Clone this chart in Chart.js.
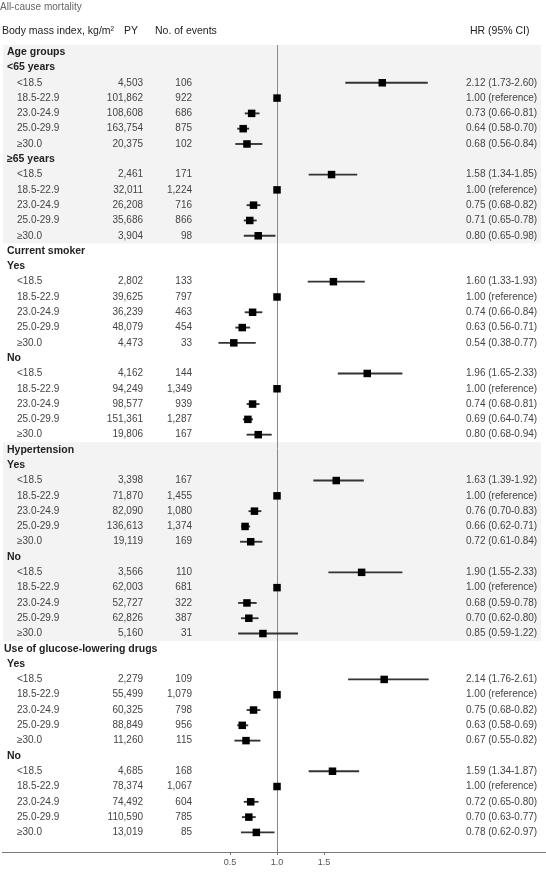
<!DOCTYPE html>
<html>
<head>
<meta charset="utf-8">
<script src="https://cdn.jsdelivr.net/npm/chart.js@4/dist/chart.umd.min.js"></script>
<style>
html,body{margin:0;padding:0;background:#fff;}
#wrap{position:relative;width:546px;height:872px;}
canvas{display:block;}
</style>
</head>
<body>
<div id="wrap"><canvas id="c" width="546" height="872"></canvas></div>
<script>
// ---------- DATA ----------
const chartTitle = 'All-cause mortality';
const columnHeaders = ['Body mass index, kg/m²', 'PY', 'No. of events', 'HR (95% CI)'];
const bmiCategories = ['<18.5', '18.5-22.9', '23.0-24.9', '25.0-29.9', '≥30.0'];
const sectionNames = ['Age groups', 'Current smoker', 'Hypertension', 'Use of glucose-lowering drugs'];
const subgroupNames = ['<65 years', '≥65 years', 'Yes', 'No', 'Yes', 'No', 'Yes', 'No'];
const personYears = [
  4503, 101862, 108608, 163754, 20375,
  2461, 32011, 26208, 35686, 3904,
  2802, 39625, 36239, 48079, 4473,
  4162, 94249, 98577, 151361, 19806,
  3398, 71870, 82090, 136613, 19119,
  3566, 62003, 52727, 62826, 5160,
  2279, 55499, 60325, 88849, 11260,
  4685, 78374, 74492, 110590, 13019
];
const eventCounts = [
  106, 922, 686, 875, 102,
  171, 1224, 716, 866, 98,
  133, 797, 463, 454, 33,
  144, 1349, 939, 1287, 167,
  167, 1455, 1080, 1374, 169,
  110, 681, 322, 387, 31,
  109, 1079, 798, 956, 115,
  168, 1067, 604, 785, 85
];
const hazardRatio = [
  2.12, 1.00, 0.73, 0.64, 0.68,
  1.58, 1.00, 0.75, 0.71, 0.80,
  1.60, 1.00, 0.74, 0.63, 0.54,
  1.96, 1.00, 0.74, 0.69, 0.80,
  1.63, 1.00, 0.76, 0.66, 0.72,
  1.90, 1.00, 0.68, 0.70, 0.85,
  2.14, 1.00, 0.75, 0.63, 0.67,
  1.59, 1.00, 0.72, 0.70, 0.78
];
const ciLower = [
  1.73, null, 0.66, 0.58, 0.56,
  1.34, null, 0.68, 0.65, 0.65,
  1.33, null, 0.66, 0.56, 0.38,
  1.65, null, 0.68, 0.64, 0.68,
  1.39, null, 0.70, 0.62, 0.61,
  1.55, null, 0.59, 0.62, 0.59,
  1.76, null, 0.68, 0.58, 0.55,
  1.34, null, 0.65, 0.63, 0.62
];
const ciUpper = [
  2.60, null, 0.81, 0.70, 0.84,
  1.85, null, 0.82, 0.78, 0.98,
  1.93, null, 0.84, 0.71, 0.77,
  2.33, null, 0.81, 0.74, 0.94,
  1.92, null, 0.83, 0.71, 0.84,
  2.33, null, 0.78, 0.80, 1.22,
  2.61, null, 0.82, 0.69, 0.82,
  1.87, null, 0.80, 0.77, 0.97
];
const xTickValues = [0.5, 1.0, 1.5];

// ---------- BUILD ROWS ----------
const rows = [];
sectionNames.forEach((s, si) => {
  rows.push({ kind: 'section', text: s, si });
  for (let sg = 0; sg < 2; sg++) {
    const g = si * 2 + sg;
    rows.push({ kind: 'subgroup', text: subgroupNames[g], si });
    bmiCategories.forEach((b, bi) => {
      rows.push({ kind: 'bmi', text: b, k: g * 5 + bi, si });
    });
  }
});
rows.forEach((r, i) => r.idx = i);

const pointData = rows.filter(r => r.kind === 'bmi').map(r => ({ x: hazardRatio[r.k], y: r.idx }));
const ciData = rows.filter(r => r.kind === 'bmi' && ciLower[r.k] != null)
  .map(r => ({ y: r.idx, x: [ciLower[r.k], ciUpper[r.k]] }));

const fmtInt = v => v.toLocaleString('en-US');
const hrText = k => ciLower[k] == null
  ? hazardRatio[k].toFixed(2) + ' (reference)'
  : hazardRatio[k].toFixed(2) + ' (' + ciLower[k].toFixed(2) + '-' + ciUpper[k].toFixed(2) + ')';

const NARROW = '"Liberation Sans Narrow", "Arial Narrow", "Liberation Sans", sans-serif';
const SANS = '"Liberation Sans", Arial, sans-serif';

const bgPlugin = {
  id: 'bg',
  beforeDraw(chart) {
    const ctx = chart.ctx, ys = chart.scales.y;
    ctx.save();
    ctx.fillStyle = '#fff';
    ctx.fillRect(0, 0, chart.width, chart.height);
    ctx.fillStyle = '#f3f3f3';
    sectionNames.forEach((s, si) => {
      if (si % 2 !== 0) return;
      const first = rows.findIndex(r => r.si === si);
      const last = rows.length - 1 - [...rows].reverse().findIndex(r => r.si === si);
      const top = Math.max(chart.chartArea.top, ys.getPixelForValue(first - 0.5));
      const bot = ys.getPixelForValue(last + 0.5);
      ctx.fillRect(3, top, 538, bot - top);
    });
    ctx.restore();
  }
};

const textPlugin = {
  id: 'texts',
  afterDraw(chart) {
    const ctx = chart.ctx, ys = chart.scales.y;
    ctx.save();
    ctx.textBaseline = 'middle';
    // title
    ctx.font = '10px ' + NARROW;
    ctx.fillStyle = '#666';
    ctx.textAlign = 'left';
    ctx.fillText(chartTitle, 0, 7);
    // column headers
    ctx.font = '10.5px ' + SANS;
    ctx.fillStyle = '#222';
    ctx.fillText(columnHeaders[0], 2, 31);
    ctx.fillText(columnHeaders[1], 124, 31);
    ctx.fillText(columnHeaders[2], 155, 31);
    ctx.fillText(columnHeaders[3], 470, 31);
    rows.forEach((r, i) => {
      const y = ys.getPixelForValue(i);
      if (r.kind === 'section') {
        ctx.font = 'bold 10.5px ' + NARROW;
        ctx.fillStyle = '#222';
        ctx.textAlign = 'left';
        ctx.fillText(r.text, r.si === 3 ? 4 : 7, y);
      } else if (r.kind === 'subgroup') {
        ctx.font = 'bold 10.5px ' + NARROW;
        ctx.fillStyle = '#222';
        ctx.textAlign = 'left';
        ctx.fillText(r.text, 7, y);
      } else {
        ctx.font = '10px ' + NARROW;
        ctx.fillStyle = '#444';
        ctx.textAlign = 'left';
        ctx.fillText(r.text, 17, y);
        ctx.textAlign = 'right';
        ctx.fillText(fmtInt(personYears[r.k]), 143, y);
        ctx.fillText(fmtInt(eventCounts[r.k]), 192, y);
        ctx.textAlign = 'left';
        ctx.fillText(hrText(r.k), 466, y);
      }
    });
    ctx.restore();
  }
};

new Chart(document.getElementById('c'), {
  type: 'bar',
  data: {
    datasets: [
      {
        type: 'scatter',
        data: pointData,
        pointStyle: 'rect',
        pointRadius: 5.3,
        pointHoverRadius: 5.3,
        backgroundColor: '#000',
        borderColor: '#000',
        borderWidth: 0
      },
      {
        type: 'bar',
        data: ciData,
        backgroundColor: '#333',
        borderWidth: 0,
        barThickness: 1.2,
        grouped: false
      }
    ]
  },
  options: {
    indexAxis: 'y',
    responsive: false,
    animation: false,
    devicePixelRatio: 1,
    layout: { autoPadding: false, padding: { left: 2, right: 1, top: 45, bottom: 0 } },
    plugins: { legend: { display: false }, tooltip: { enabled: false } },
    scales: {
      x: {
        type: 'linear',
        position: 'bottom',
        min: -1.926,
        max: 3.851,
        offset: false,
        z: 1,
        afterBuildTicks: s => { s.ticks = xTickValues.map(v => ({ value: v })); },
        afterFit: s => { s.height = 20; },
        grid: {
          display: true,
          drawOnChartArea: true,
          drawTicks: true,
          offset: false,
          tickLength: 3,
          lineWidth: 1,
          color: c => (c.tick && c.tick.value === 1) ? '#8a8a8a' : 'rgba(0,0,0,0)',
          tickColor: '#777'
        },
        border: { display: true, color: '#777', width: 1 },
        ticks: {
          padding: 2,
          color: '#555',
          font: { family: NARROW, size: 9 },
          callback: v => Number(v).toFixed(1),
          autoSkip: false,
          maxRotation: 0
        }
      },
      y: {
        type: 'linear',
        reverse: true,
        offset: false,
        min: -0.47,
        max: 52.28,
        display: false
      }
    }
  },
  plugins: [bgPlugin, textPlugin]
});
</script>
</body>
</html>
